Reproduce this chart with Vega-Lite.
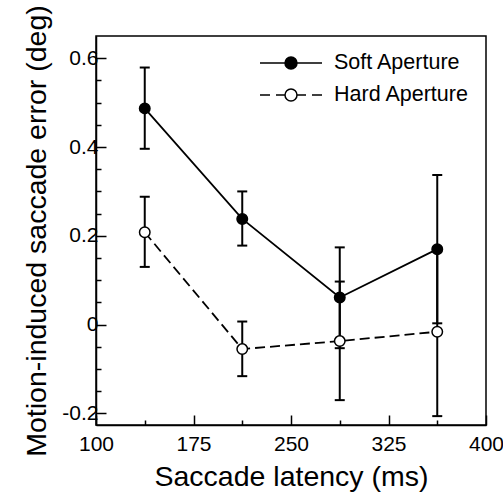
{
  "$schema": "https://vega.github.io/schema/vega-lite/v6.json",
  "width": 390,
  "height": 389,
  "autosize": "none",
  "padding": {"left": 96, "top": 36, "right": 17, "bottom": 78},
  "background": "white",
  "data": {
    "values": [
      {"series": "Soft Aperture", "latency": 137.5, "mean": 0.487, "lo": 0.396, "hi": 0.579},
      {"series": "Soft Aperture", "latency": 212.5, "mean": 0.238, "lo": 0.178, "hi": 0.300},
      {"series": "Soft Aperture", "latency": 287.5, "mean": 0.061, "lo": -0.053, "hi": 0.174},
      {"series": "Soft Aperture", "latency": 362.5, "mean": 0.170, "lo": 0.003, "hi": 0.337},
      {"series": "Hard Aperture", "latency": 137.5, "mean": 0.208, "lo": 0.130, "hi": 0.288},
      {"series": "Hard Aperture", "latency": 212.5, "mean": -0.055, "lo": -0.116, "hi": 0.007},
      {"series": "Hard Aperture", "latency": 287.5, "mean": -0.037, "lo": -0.170, "hi": 0.097},
      {"series": "Hard Aperture", "latency": 362.5, "mean": -0.016, "lo": -0.206, "hi": 0.174}
    ]
  },
  "config": {
    "font": "Liberation Sans",
    "view": {"stroke": "black", "strokeWidth": 1.5},
    "axis": {
      "grid": false,
      "domainColor": "black",
      "domainWidth": 1.5,
      "tickColor": "black",
      "tickWidth": 1.5,
      "labelColor": "black",
      "labelFont": "Liberation Sans",
      "labelFontSize": 21,
      "titleFont": "Liberation Sans",
      "titleFontSize": 28.5,
      "titleFontWeight": "normal",
      "titleColor": "black"
    },
    "legend": {
      "labelFont": "Liberation Sans",
      "labelFontSize": 21.5,
      "labelColor": "black"
    }
  },
  "layer": [
    {
      "mark": {"type": "rule", "color": "black", "strokeWidth": 2},
      "encoding": {
        "x": {
          "field": "latency", "type": "quantitative",
          "scale": {"domain": [100, 400], "nice": false, "zero": false},
          "axis": {"orient": "bottom", "values": [137.5, 212.5, 287.5, 362.5], "labels": false, "tickSize": -5, "domain": false, "title": null}
        },
        "y": {
          "field": "lo", "type": "quantitative",
          "scale": {"domain": [-0.226, 0.65], "nice": false, "zero": false},
          "axis": {"orient": "left", "values": [-0.15, -0.1, -0.05, 0.05, 0.1, 0.15, 0.25, 0.3, 0.35, 0.45, 0.5, 0.55], "labels": false, "tickSize": -5, "domain": false, "title": null}
        },
        "y2": {"field": "hi"}
      }
    },
    {
      "mark": {"type": "tick", "orient": "horizontal", "size": 10, "thickness": 2, "color": "black", "opacity": 1},
      "encoding": {
        "x": {"field": "latency", "type": "quantitative", "scale": {"domain": [100, 400], "nice": false, "zero": false}, "axis": null},
        "y": {"field": "lo", "type": "quantitative", "scale": {"domain": [-0.226, 0.65], "nice": false, "zero": false}, "axis": null}
      }
    },
    {
      "mark": {"type": "tick", "orient": "horizontal", "size": 10, "thickness": 2, "color": "black", "opacity": 1},
      "encoding": {
        "x": {"field": "latency", "type": "quantitative", "scale": {"domain": [100, 400], "nice": false, "zero": false}, "axis": null},
        "y": {"field": "hi", "type": "quantitative", "scale": {"domain": [-0.226, 0.65], "nice": false, "zero": false}, "axis": null}
      }
    },
    {
      "transform": [{"filter": "datum.series === 'Soft Aperture'"}],
      "mark": {"type": "line", "color": "black", "strokeWidth": 1.8},
      "encoding": {
        "x": {"field": "latency", "type": "quantitative", "scale": {"domain": [100, 400], "nice": false, "zero": false}, "axis": null},
        "y": {"field": "mean", "type": "quantitative", "scale": {"domain": [-0.226, 0.65], "nice": false, "zero": false}, "axis": null}
      }
    },
    {
      "transform": [{"filter": "datum.series === 'Hard Aperture'"}],
      "mark": {"type": "line", "color": "black", "strokeWidth": 1.8, "strokeDash": [10, 5]},
      "encoding": {
        "x": {"field": "latency", "type": "quantitative", "scale": {"domain": [100, 400], "nice": false, "zero": false}, "axis": null},
        "y": {"field": "mean", "type": "quantitative", "scale": {"domain": [-0.226, 0.65], "nice": false, "zero": false}, "axis": null}
      }
    },
    {
      "transform": [{"filter": "false"}],
      "mark": {"type": "point", "filled": true, "stroke": "black", "strokeWidth": 1.5, "opacity": 1},
      "encoding": {
        "x": {"field": "latency", "type": "quantitative", "scale": {"domain": [100, 400], "nice": false, "zero": false}, "axis": null},
        "y": {"field": "mean", "type": "quantitative", "scale": {"domain": [-0.226, 0.65], "nice": false, "zero": false}, "axis": null},
        "fill": {
          "field": "series", "type": "nominal",
          "scale": {"domain": ["Soft Aperture", "Hard Aperture"], "range": ["black", "white"]}
        },
        "shape": {
          "field": "series", "type": "nominal",
          "scale": {
            "domain": ["Soft Aperture", "Hard Aperture"],
            "range": [
              "M-3.1,0H3.1M0.6,0A0.6,0.6,0,1,1,-0.6,0A0.6,0.6,0,1,1,0.6,0Z",
              "M-3.1,0H-2.1M-1.5,0H-0.6M0.6,0H1.5M2.1,0H3.1M0.6,0A0.6,0.6,0,1,1,-0.6,0A0.6,0.6,0,1,1,0.6,0Z"
            ]
          }
        }
      }
    },
    {
      "mark": {"type": "point", "filled": true, "shape": "circle", "size": 110, "stroke": "black", "strokeWidth": 1.5, "opacity": 1},
      "encoding": {
        "x": {
          "field": "latency", "type": "quantitative",
          "scale": {"domain": [100, 400], "nice": false, "zero": false},
          "axis": {"orient": "bottom", "values": [100, 175, 250, 325, 400], "tickSize": -10, "labelPadding": 18, "title": "Saccade latency (ms)", "titlePadding": 8, "labelFlush": false}
        },
        "y": {
          "field": "mean", "type": "quantitative",
          "scale": {"domain": [-0.226, 0.65], "nice": false, "zero": false},
          "axis": {"orient": "left", "values": [-0.2, 0, 0.2, 0.4, 0.6], "tickSize": -10, "labelPadding": 8, "labelExpr": "'' + datum.value", "title": "Motion-induced saccade error (deg)", "titlePadding": 10, "labelFlush": false}
        },
        "fill": {
          "field": "series", "type": "nominal",
          "scale": {"domain": ["Soft Aperture", "Hard Aperture"], "range": ["black", "white"]},
          "legend": {
            "title": null,
            "orient": "top-right",
            "offset": 16,
            "padding": 0,
            "symbolSize": 400,
            "symbolStrokeWidth": 1.5,
            "symbolStrokeColor": "black",
            "labelOffset": 32,
            "rowPadding": 10
          }
        }
      }
    }
  ],
  "resolve": {"axis": {"x": "independent", "y": "independent"}}
}
